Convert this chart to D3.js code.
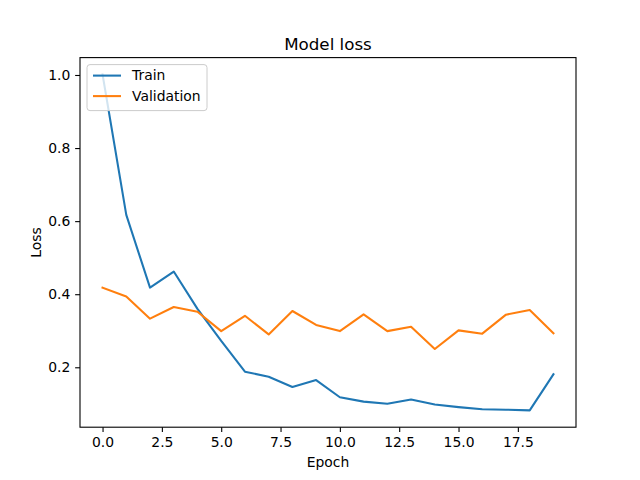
<!DOCTYPE html>
<html>
<head>
<meta charset="utf-8">
<script src="https://cdn.jsdelivr.net/npm/d3@7"></script>
<style>
  body { margin: 0; background: #fff; }
  text { font-family: "DejaVu Sans", sans-serif; fill: #000; }
</style>
</head>
<body>
<div id="chart"></div>
<script>
var epochs = d3.range(20);
var trainLoss = [1.0016, 0.617, 0.418, 0.462, 0.36, 0.272, 0.188, 0.174, 0.146, 0.165,
                 0.118, 0.106, 0.100, 0.112, 0.098, 0.091, 0.085, 0.084, 0.082, 0.181];
var valLoss = [0.418, 0.394, 0.333, 0.365, 0.352, 0.299, 0.341, 0.290, 0.354, 0.316,
               0.299, 0.345, 0.299, 0.311, 0.250, 0.301, 0.292, 0.344, 0.357, 0.293];
var seriesNames = ["Train", "Validation"];
var seriesColors = ["#1f77b4", "#ff7f0e"];
var xTicks = [0, 2.5, 5, 7.5, 10, 12.5, 15, 17.5];
var yTicks = [0.2, 0.4, 0.6, 0.8, 1.0];

var W = 640, H = 480;
var margin = {left: 80, right: 64, top: 57.6, bottom: 52.8};
var width = W - margin.left - margin.right,
    height = H - margin.top - margin.bottom;

var svg = d3.select("#chart").append("svg")
    .attr("width", W)
    .attr("height", H);

var g = svg.append("g")
    .attr("transform", "translate(" + margin.left + "," + margin.top + ")");

// matplotlib style 5% padding
var allY = trainLoss.concat(valLoss);
var ymin = d3.min(allY), ymax = d3.max(allY), yr = ymax - ymin;
var x = d3.scaleLinear().domain([-0.95, 19.95]).range([0, width]);
var y = d3.scaleLinear().domain([ymin - 0.05 * yr, ymax + 0.05 * yr]).range([height, 0]);

var line = d3.line()
    .x(function (d, i) { return x(epochs[i]); })
    .y(function (d) { return y(d); });

[trainLoss, valLoss].forEach(function (s, i) {
    g.append("path")
        .datum(s)
        .attr("fill", "none")
        .attr("stroke", seriesColors[i])
        .attr("stroke-width", 2.08)
        .attr("stroke-linejoin", "round")
        .attr("stroke-linecap", "square")
        .attr("d", line);
});

var xAxis = g.append("g")
    .attr("transform", "translate(0," + height + ")")
    .call(d3.axisBottom(x).tickValues(xTicks).tickSize(4.86).tickPadding(4.86)
        .tickFormat(d3.format(".1f")));
var yAxis = g.append("g")
    .call(d3.axisLeft(y).tickValues(yTicks).tickSize(4.86).tickPadding(4.86)
        .tickFormat(d3.format(".1f")));

[xAxis, yAxis].forEach(function (a) {
    a.select(".domain").remove();
    a.selectAll(".tick line").attr("stroke", "#000").attr("stroke-width", 1.1);
    a.selectAll(".tick text").style("font-size", "13.9px").attr("fill", "#000");
});

// frame
g.append("rect")
    .attr("width", width)
    .attr("height", height)
    .attr("fill", "none")
    .attr("stroke", "#000")
    .attr("stroke-width", 1.1);

svg.append("text")
    .attr("x", margin.left + width / 2)
    .attr("y", margin.top - 8)
    .attr("text-anchor", "middle")
    .style("font-size", "16.7px")
    .text("Model loss");

svg.append("text")
    .attr("x", margin.left + width / 2)
    .attr("y", 467)
    .attr("text-anchor", "middle")
    .style("font-size", "13.9px")
    .text("Epoch");

svg.append("text")
    .attr("transform", "translate(41," + (margin.top + height / 2) + ") rotate(-90)")
    .attr("text-anchor", "middle")
    .style("font-size", "13.9px")
    .text("Loss");

// legend
var legend = g.append("g").attr("transform", "translate(7,7)");
legend.append("rect")
    .attr("width", 120)
    .attr("height", 46)
    .attr("rx", 3)
    .attr("fill", "#fff")
    .attr("fill-opacity", 0.8)
    .attr("stroke", "#ccc")
    .attr("stroke-width", 1);
seriesNames.forEach(function (name, i) {
    var row = legend.append("g").attr("transform", "translate(0," + (11 + i * 20.5) + ")");
    row.append("line")
        .attr("x1", 6).attr("x2", 34)
        .attr("stroke", seriesColors[i])
        .attr("stroke-width", 2.08);
    row.append("text")
        .attr("x", 45)
        .attr("dy", "0.35em")
        .style("font-size", "13.9px")
        .text(name);
});
</script>
</body>
</html>
